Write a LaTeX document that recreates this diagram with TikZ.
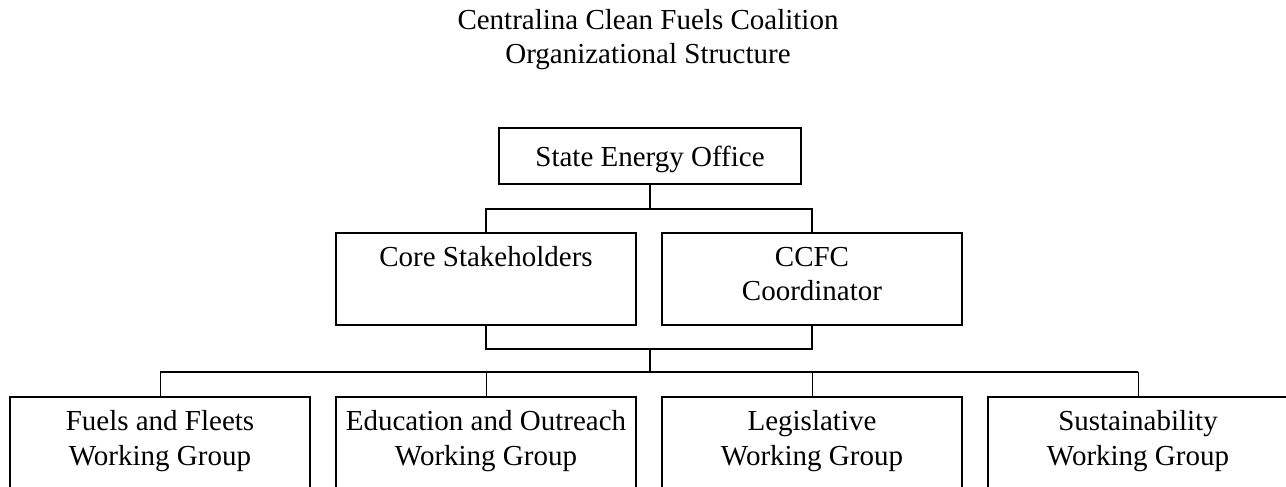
\documentclass[tikz,border=0pt]{standalone}
\usepackage{fontspec}
\setmainfont{Liberation Serif}
\usepackage{tikz}

\begin{document}
\begin{tikzpicture}[x=1pt, y=-1pt,
  every node/.style={font=\fontsize{29}{34.5}\selectfont, align=center, inner sep=0pt},
  ufficio/.style={draw, line width=1.3pt, minimum width=300pt, minimum height=92pt,
    execute at begin node=\strut, execute at end node=\strut},
  capo/.style={draw, line width=1.3pt, minimum width=302pt, minimum height=56pt,
    text height=24pt, text depth=4pt},
  linea/.style={line width=1.3pt},
  ramo/.style={line width=0.6pt}]
\useasboundingbox (0,0) rectangle (1286,487);
% --- titolo ---
\node (titolo) [anchor=north, execute at begin node=\strut, execute at end node=\strut]
  at (648,8.85) {Centralina Clean Fuels Coalition\\Organizational Structure};
% --- organigramma: livelli ---
\node (state) [capo] at (650,156) {State Energy Office};
\node (core) [ufficio] at (486,279) {Core Stakeholders\\ {}};
\node (ccfc) [ufficio] at (812,279) {CCFC\\Coordinator};
\foreach \nome/\x/\testo in {fuels/160/Fuels and Fleets, educ/486/Education and Outreach,
    legis/812/Legislative, sust/1138/Sustainability}
  \node (\nome) [ufficio] at (\x,443) {\testo\\Working Group};
% --- collegamenti ---
\coordinate (j1) at (650,209);
\coordinate (j2) at (650,349);
\coordinate (bus) at (650,372);
\draw[linea] (state.south) -- (j1);
\draw[linea] (core.north) |- (j1) -| (ccfc.north);
\draw[linea] (core.south) |- (j2) -| (ccfc.south);
\draw[linea] (j2) -- (bus);
\draw[linea] (bus -| fuels) -- (bus -| sust);
\foreach \nome in {fuels,educ,legis,sust}
  \draw[ramo] (bus -| \nome.north) -- (\nome.north);
\end{tikzpicture}
\end{document}
